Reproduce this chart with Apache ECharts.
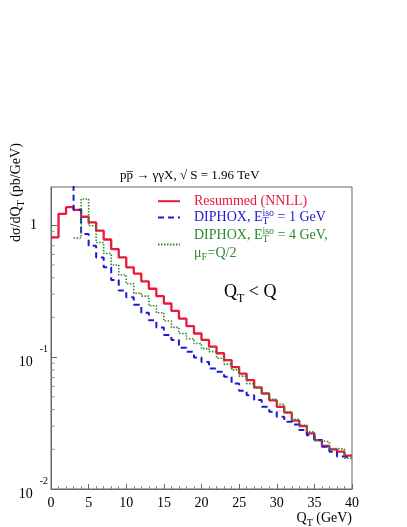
<!DOCTYPE html>
<html lang="en">
<head>
    <meta charset="UTF-8">
    <title>QT distribution</title>
    <script src="https://cdn.jsdelivr.net/npm/echarts@6/dist/echarts.min.js"></script>
    <style>
        html, body { margin: 0; padding: 0; background: #fff; }
    </style>
</head>
<body>
    <div id="main" style="width: 407px;height:527px;"></div>

    <script type="text/javascript">
        // bin edges in GeV (bins are 1 GeV wide)
        const qtEdges = [0, 1, 2, 3, 4, 5, 6, 7, 8, 9, 10, 11, 12, 13, 14, 15, 16, 17, 18, 19, 20,
            21, 22, 23, 24, 25, 26, 27, 28, 29, 30, 31, 32, 33, 34, 35, 36, 37, 38, 39, 40];

        // bin contents, pb/GeV (one value per bin)
        const resummed = [0.81, 1.22, 1.37, 1.31, 1.16, 1.05, 0.91, 0.78, 0.66, 0.57,
            0.48, 0.43, 0.375, 0.33, 0.29, 0.255, 0.224, 0.196, 0.172, 0.151,
            0.135, 0.12, 0.107, 0.095, 0.084, 0.075, 0.067, 0.059, 0.053, 0.047,
            0.042, 0.038, 0.033, 0.030, 0.0264, 0.0235, 0.0212, 0.020, 0.0192, 0.0179];
        const diphox1 = [null, null, 3.0, 1.31, 0.86, 0.70, 0.57, 0.48, 0.385, 0.32,
            0.285, 0.25, 0.217, 0.19, 0.168, 0.147, 0.135, 0.118, 0.110, 0.0995,
            0.092, 0.082, 0.0775, 0.071, 0.063, 0.0556, 0.0515, 0.0472, 0.042, 0.0385,
            0.0353, 0.0323, 0.0309, 0.028, 0.0256, 0.0235, 0.0209, 0.0192, 0.0176, 0.0171];
        const diphox4 = [null, null, null, 0.80, 1.58, 0.99, 0.74, 0.61, 0.50, 0.42,
            0.36, 0.305, 0.29, 0.245, 0.217, 0.188, 0.168, 0.151, 0.138, 0.127,
            0.116, 0.110, 0.098, 0.0885, 0.080, 0.0718, 0.063, 0.058, 0.053, 0.0478,
            0.0438, 0.0385, 0.0337, 0.0305, 0.0272, 0.0232, 0.0228, 0.0203, 0.020, 0.0171];

        // log-axis minor tick values
        const yMinorTicks = [0.02, 0.03, 0.04, 0.05, 0.06, 0.07, 0.08, 0.09,
            0.2, 0.3, 0.4, 0.5, 0.6, 0.7, 0.8, 0.9];

        const SERIF = 'Liberation Serif';
        const RED = '#e8193c', BLUE = '#1a1ad6', GREEN = '#2b8a2b';

        // histogram -> points on bin edges, drawn with step:'end'
        function toSteps(vals) {
            return qtEdges.map(function (q, i) {
                const v = vals[Math.min(i, vals.length - 1)];
                return [q, v == null ? '-' : v];
            });
        }

        const legendText = {
            'Resummed (NNLL)': '{sp|}{r|Resummed (NNLL)}',
            'DIPHOX 1': '{sp|}{b|DIPHOX, E}{bsub|T}{bsup|iso}{b| = 1 GeV}',
            'DIPHOX 4': '{sp|}{g|DIPHOX, E}{gsub|T}{gsup|iso}{g| = 4 GeV,}\n{sp|}{g|μ}{gsub2|F}{g|=Q/2}'
        };

        function txt(color, size) {
            return { color: color, fontFamily: SERIF, fontSize: size, lineHeight: 18 };
        }
        function sub(color, w) {
            return { color: color, fontFamily: SERIF, fontSize: 10, lineHeight: 9, verticalAlign: 'bottom', width: w };
        }
        function sup(color) {
            return { color: color, fontFamily: SERIF, fontSize: 10, lineHeight: 10, verticalAlign: 'top' };
        }

        var myChart = echarts.init(document.getElementById('main'));

        option = {
            backgroundColor: '#fff',
            animation: false,
            title: {
                text: 'pp\u0305 \u2192 \u03b3\u03b3X, \u221a S = 1.96 TeV',
                left: 120,
                top: 169,
                padding: 0,
                textStyle: { fontFamily: SERIF, fontSize: 13, fontWeight: 'normal', color: '#000' }
            },
            grid: {
                left: 51, right: 55, top: 187, bottom: 38,
                show: true, borderColor: '#666', borderWidth: 1
            },
            legend: {
                orient: 'vertical',
                left: 157,
                top: 194,
                padding: 0,
                itemGap: 0,
                itemWidth: 22,
                itemHeight: 18,
                itemStyle: { opacity: 0 },
                data: ['Resummed (NNLL)', 'DIPHOX 1', 'DIPHOX 4'],
                formatter: function (name) { return legendText[name]; },
                textStyle: {
                    rich: {
                        sp: { width: 9, lineHeight: 18 },
                        r: txt(RED, 14),
                        b: txt(BLUE, 14),
                        g: txt(GREEN, 14),
                        bsub: sub(BLUE, 0),
                        bsup: sup(BLUE),
                        gsub: sub(GREEN, 0),
                        gsub2: sub(GREEN, 6),
                        gsup: sup(GREEN)
                    }
                }
            },
            xAxis: {
                type: 'value',
                min: 0,
                max: 40,
                interval: 5,
                axisLine: { lineStyle: { color: '#666' } },
                axisTick: { inside: true, length: 5, lineStyle: { color: '#666' } },
                minorTick: { show: true, splitNumber: 5, length: 3, lineStyle: { color: '#888' } },
                splitLine: { show: false },
                axisLabel: { margin: 7, fontFamily: SERIF, fontSize: 14, color: '#000' }
            },
            yAxis: {
                type: 'log',
                logBase: 10,
                min: 0.01,
                max: 1.95,
                axisLine: { show: true, lineStyle: { color: '#666' } },
                axisTick: { show: true, inside: true, length: 6, lineStyle: { color: '#666' } },
                splitLine: { show: false },
                axisLabel: {
                    margin: 3,
                    showMaxLabel: false,
                    formatter: function (v) {
                        const e = Math.round(Math.log10(v));
                        if (e === 0) return '{one|1}';
                        return '{h|}{n|10}{e|' + e + '}';
                    },
                    rich: {
                        h: { lineHeight: 25, width: 0 },
                        one: { fontFamily: SERIF, fontSize: 14, color: '#000', padding: [0, 11, 0, 0] },
                        n: { fontFamily: SERIF, fontSize: 14, color: '#000', lineHeight: 16, verticalAlign: 'bottom' },
                        e: { fontFamily: SERIF, fontSize: 10, color: '#000', lineHeight: 12, verticalAlign: 'top', padding: [0, 0, 0, 7] }
                    }
                }
            },
            graphic: [
                {
                    type: 'text',
                    x: 16, y: 242,
                    rotation: Math.PI / 2,
                    style: {
                        text: '{t|d\u03c3/dQ}{s|T}{t| (pb/GeV)}',
                        align: 'left', verticalAlign: 'middle',
                        rich: {
                            t: { fontFamily: SERIF, fontSize: 14, fill: '#000', lineHeight: 20 },
                            s: { fontFamily: SERIF, fontSize: 10, fill: '#000', lineHeight: 10, verticalAlign: 'bottom' }
                        }
                    }
                },
                {
                    type: 'text',
                    x: 352, y: 518,
                    style: {
                        text: '{t|Q}{s|T}{t| (GeV)}',
                        align: 'right', verticalAlign: 'middle',
                        rich: {
                            t: { fontFamily: SERIF, fontSize: 14, fill: '#000', lineHeight: 20 },
                            s: { fontFamily: SERIF, fontSize: 10, fill: '#000', lineHeight: 10, verticalAlign: 'bottom' }
                        }
                    }
                },
                {
                    type: 'text',
                    x: 224, y: 292,
                    style: {
                        text: '{t|Q}{s|T}{t| < Q}',
                        align: 'left', verticalAlign: 'middle',
                        rich: {
                            t: { fontFamily: SERIF, fontSize: 18, fill: '#000', lineHeight: 26 },
                            s: { fontFamily: SERIF, fontSize: 12, fill: '#000', lineHeight: 12, verticalAlign: 'bottom' }
                        }
                    }
                }
            ],
            series: [
                {
                    name: 'Resummed (NNLL)',
                    type: 'line',
                    step: 'end',
                    symbol: 'none',
                    clip: true,
                    lineStyle: { color: RED, width: 2.3 },
                    itemStyle: { color: RED },
                    data: toSteps(resummed)
                },
                {
                    name: 'DIPHOX 1',
                    type: 'line',
                    step: 'end',
                    symbol: 'none',
                    clip: true,
                    lineStyle: { color: BLUE, width: 2, type: [6, 4] },
                    itemStyle: { color: BLUE },
                    data: toSteps(diphox1)
                },
                {
                    name: 'DIPHOX 4',
                    type: 'line',
                    step: 'end',
                    symbol: 'none',
                    clip: true,
                    lineStyle: { color: GREEN, width: 1.6, type: [1.5, 1.5] },
                    itemStyle: { color: GREEN },
                    data: toSteps(diphox4)
                },
                {
                    // minor ticks of the log axis, placed through the y scale
                    name: 'yMinor',
                    type: 'custom',
                    silent: true,
                    clip: false,
                    data: yMinorTicks.map(function (v) { return [0, v]; }),
                    encode: { x: 0, y: 1 },
                    renderItem: function (params, api) {
                        const p = api.coord([api.value(0), api.value(1)]);
                        return {
                            type: 'line',
                            shape: { x1: p[0], y1: p[1], x2: p[0] + 3.5, y2: p[1] },
                            style: { stroke: '#888', lineWidth: 1 }
                        };
                    }
                }
            ]
        };

        myChart.setOption(option);
    </script>
</body>
</html>
